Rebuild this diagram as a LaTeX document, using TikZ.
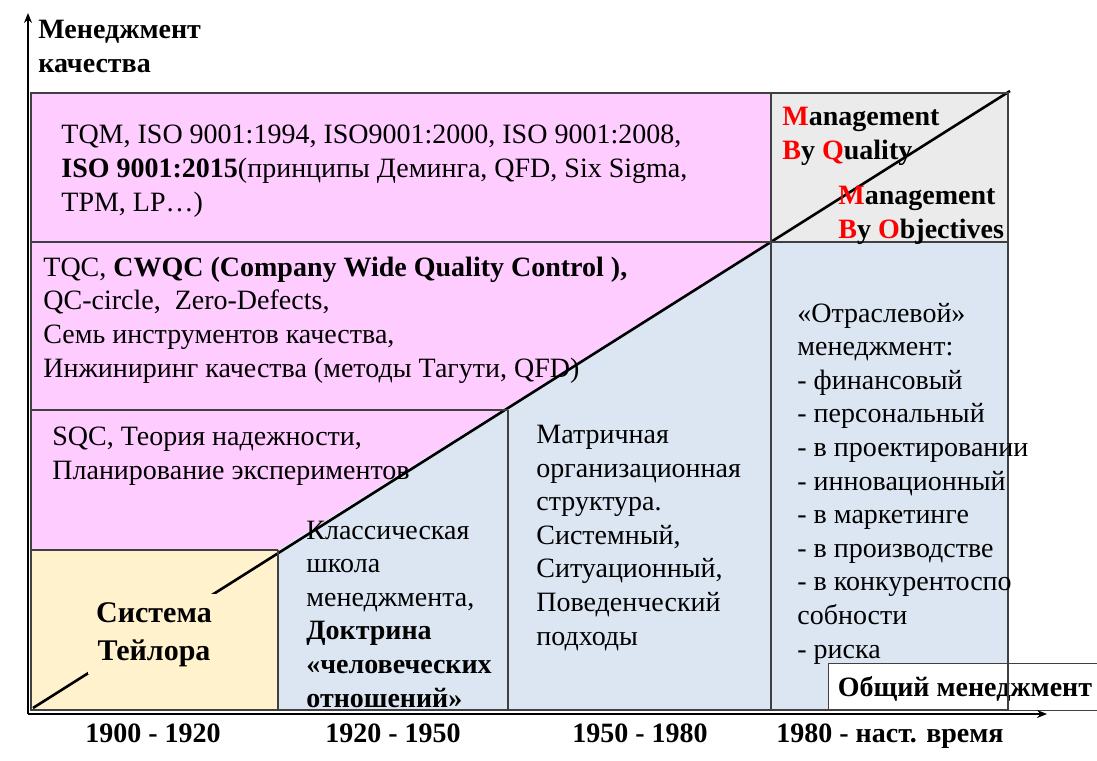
\documentclass[tikz,border=0pt]{standalone}
\usepackage{fontspec}
\setmainfont{Liberation Serif}
\usepackage{tikz}
\usetikzlibrary{arrows.meta}
\definecolor{qualpink}{RGB}{255, 204, 255}
\definecolor{mgmtblue}{RGB}{220, 230, 242}
\definecolor{tayloryellow}{RGB}{255, 242, 204}
\definecolor{mbgray}{RGB}{235, 235, 235}
\definecolor{gridgray}{RGB}{64, 64, 64}
\newcommand{\redini}[1]{\textcolor{red}{#1}}

\begin{document}
\begin{tikzpicture}[x=0.5pt, y=-0.5pt,
  celltext/.style={anchor=base west, align=left, inner sep=0pt, font=\fontsize{14}{16.8}\selectfont},
  headtext/.style={anchor=base west, align=left, inner sep=0pt, font=\fontsize{14}{16.6}\selectfont\bfseries},
  periodtext/.style={anchor=base, inner sep=0pt, font=\fontsize{14}{16.8}\selectfont\bfseries},
  gridline/.style={draw=gridgray, line width=0.6pt}]
  \useasboundingbox (0,0) rectangle (1097,760);

  % Fills
  \fill[qualpink] (31,93) -- (771,93) -- (771,242) -- (278,550) -- (31,550) -- cycle;
  \fill[mgmtblue] (278,550) -- (771,242) -- (1008,242) -- (1008,710) -- (278,710) -- cycle;
  \fill[tayloryellow] (31,550) rectangle (278,710);
  \fill[mbgray] (771,93) rectangle (1008,242);

  % Diagonal
  \draw[line width=1.3pt] (33,708) -- (1010,91);

  % General management box
  \node[draw=gridgray, fill=white, line width=0.6pt, minimum width=277*0.5pt, minimum height=47*0.5pt, inner sep=0pt, anchor=north west] (genbox) at (828,663) {};
  \node[periodtext] (general) at (965,696) {Общий менеджмент};

  % Grid
  \draw[gridline] (31,93) rectangle (1008,710);
  \draw[gridline] (31,242) -- (1008,242);
  \draw[gridline] (31,410) -- (508,410);
  \draw[gridline] (31,550) -- (278,550);
  \draw[gridline] (278,550) -- (278,710);
  \draw[gridline] (508,410) -- (508,710);
  \draw[gridline] (771,93) -- (771,710);

  % Axes
  \coordinate (origin) at (28,714);
  \coordinate (ytip) at (28,13);
  \coordinate (xtip) at (1047,714);
  \draw[line width=0.8pt, -{Stealth[length=5pt, width=4pt]}] (origin) -- (ytip);
  \draw[line width=0.8pt, -{Stealth[length=5pt, width=4pt]}] (origin) -- (xtip);
  \node[headtext] (ylabel) at (38,72) {Менеджмент\\качества};

  % Quality management rows (anchored at the last line)
  \node[celltext] (tqm) at (61,211) {TQM, ISO 9001:1994, ISO9001:2000, ISO 9001:2008,\\
    \textbf{ISO 9001:2015}(принципы Деминга, QFD, Six Sigma,\\
    TPM, LP…)};
  \node[celltext] (tqc) at (43,377) {TQC, \textbf{CWQC (Company Wide Quality Control ),}\\
    QC-circle,\ \ Zero-Defects,\\
    Семь инструментов качества,\\
    Инжиниринг качества (методы Тагути, QFD)};
  \node[celltext] (sqc) at (52,479) {SQC, Теория надежности,\\Планирование экспериментов};
  \node[anchor=base, align=center, fill=tayloryellow, inner sep=4pt, font=\fontsize{15}{19}\selectfont\bfseries] (taylor) at (154,660) {Система\\Тейлора};

  % General management columns
  \node[celltext] (classic) at (306,707) {Классическая\\школа\\менеджмента,\\
    \textbf{Доктрина}\\\textbf{«человеческих}\\\textbf{отношений»}};
  \node[celltext] (matrix) at (536,645) {Матричная\\организационная\\структура.\\
    Системный,\\Ситуационный,\\Поведенческий\\подходы};
  \node[celltext] (branch) at (797,658) {«Отраслевой»\\менеджмент:\\- финансовый\\- персональный\\
    - в проектировании\\- инновационный\\- в маркетинге\\- в производстве\\
    - в конкурентоспо\\собности\\- риска};

  % Management by ...
  \node[headtext] (mbq) at (782,159) {\redini{M}anagement\\\redini{B}y \redini{Q}uality};
  \node[headtext] (mbo) at (838,238) {\redini{M}anagement\\\redini{B}y \redini{O}bjectives};

  % Periods
  \node[periodtext] (p1) at (153,742) {1900 - 1920};
  \node[periodtext] (p2) at (393,742) {1920 - 1950};
  \node[periodtext] (p3) at (640,742) {1950 - 1980};
  \node[periodtext] (p4) at (890,742) {1980 - наст. время};
\end{tikzpicture}
\end{document}
